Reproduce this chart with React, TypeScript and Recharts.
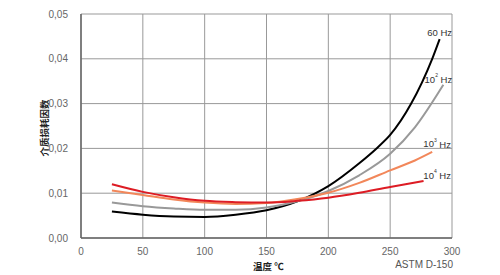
import { LineChart, Line, XAxis, YAxis, CartesianGrid, ReferenceDot } from "recharts";

const xTicks = [0, 50, 100, 150, 200, 250, 300];
const yTicks = [0, 0.01, 0.02, 0.03, 0.04, 0.05];

const hz60 = [
  { t: 25, v: 0.0059 }, { t: 50, v: 0.0052 }, { t: 75, v: 0.0048 }, { t: 100, v: 0.0047 },
  { t: 125, v: 0.0052 }, { t: 150, v: 0.0062 }, { t: 175, v: 0.0082 }, { t: 200, v: 0.0116 },
  { t: 225, v: 0.0167 }, { t: 239, v: 0.0200 }, { t: 250, v: 0.0230 }, { t: 267, v: 0.0300 },
  { t: 284, v: 0.0400 }, { t: 290, v: 0.0444 },
];
const hz100 = [
  { t: 25, v: 0.0079 }, { t: 50, v: 0.0071 }, { t: 75, v: 0.0066 }, { t: 100, v: 0.0063 },
  { t: 125, v: 0.0063 }, { t: 150, v: 0.0068 }, { t: 175, v: 0.0082 }, { t: 200, v: 0.0105 },
  { t: 225, v: 0.0140 }, { t: 250, v: 0.0188 }, { t: 270, v: 0.0247 }, { t: 293, v: 0.0342 },
];
const hz1000 = [
  { t: 25, v: 0.0106 }, { t: 50, v: 0.0096 }, { t: 75, v: 0.0086 }, { t: 100, v: 0.0079 },
  { t: 125, v: 0.0076 }, { t: 150, v: 0.0078 }, { t: 175, v: 0.0087 }, { t: 200, v: 0.0101 },
  { t: 225, v: 0.0123 }, { t: 250, v: 0.0151 }, { t: 270, v: 0.0173 }, { t: 284, v: 0.0192 },
];
const hz10000 = [
  { t: 25, v: 0.0120 }, { t: 50, v: 0.0103 }, { t: 75, v: 0.0091 }, { t: 100, v: 0.0083 },
  { t: 125, v: 0.0080 }, { t: 150, v: 0.0079 }, { t: 175, v: 0.0083 }, { t: 200, v: 0.0090 },
  { t: 225, v: 0.0101 }, { t: 250, v: 0.0114 }, { t: 277, v: 0.0127 },
];

const seriesLabels = [
  { base: "60", sup: "", t: 290, v: 0.0457 },
  { base: "10", sup: "2", t: 289, v: 0.0352 },
  { base: "10", sup: "3", t: 288, v: 0.0208 },
  { base: "10", sup: "4", t: 288, v: 0.0138 },
];

const font = "'Liberation Sans Narrow', 'Liberation Sans', Arial, sans-serif";
const fmt = (v: number) => v.toFixed(2).replace(".", ",");

function HzLabel({ viewBox, base, sup }: any) {
  const x = viewBox?.cx ?? viewBox?.x ?? 0;
  const y = viewBox?.cy ?? viewBox?.y ?? 0;
  return (
    <text x={x} y={y} textAnchor="middle" fontSize={9.5} fill="#333" fontFamily={font} dominantBaseline="middle">
      {base}
      {sup && <tspan fontSize={5} dy={-4}>{sup}</tspan>}
      <tspan dy={sup ? 4 : 0}>{" Hz"}</tspan>
    </text>
  );
}

export default function App() {
  return (
    <div style={{ position: "fixed", left: 0, top: 0, width: 500, height: 275, background: "#fff" }}>
      <LineChart width={500} height={275} margin={{ top: 14, right: 48, left: 0, bottom: 0 }}>
        <CartesianGrid stroke="#999" strokeWidth={1} />
        <XAxis
          type="number"
          dataKey="t"
          domain={[0, 300]}
          ticks={xTicks}
          height={37}
          axisLine={{ stroke: "#666", strokeWidth: 1.5 }}
          tickLine={false}
          tick={{ fill: "#666", fontSize: 10, fontFamily: font }}
          tickMargin={4}
          allowDuplicatedCategory={false}
        />
        <YAxis
          type="number"
          domain={[0, 0.05]}
          ticks={yTicks}
          width={81}
          tickFormatter={fmt}
          axisLine={{ stroke: "#666", strokeWidth: 1.5 }}
          tickLine={false}
          tick={{ fill: "#666", fontSize: 10, fontFamily: font }}
          tickMargin={7}
        />
        <Line data={hz60} dataKey="v" type="monotone" stroke="#000" strokeWidth={2} dot={false} isAnimationActive={false} />
        <Line data={hz100} dataKey="v" type="monotone" stroke="#999" strokeWidth={2} dot={false} isAnimationActive={false} />
        <Line data={hz1000} dataKey="v" type="monotone" stroke="#f2875a" strokeWidth={2} dot={false} isAnimationActive={false} />
        <Line data={hz10000} dataKey="v" type="monotone" stroke="#dd1c24" strokeWidth={2} dot={false} isAnimationActive={false} />
        {seriesLabels.map((s) => (
          <ReferenceDot
            key={s.base + s.sup}
            x={s.t}
            y={s.v}
            r={0}
            stroke="none"
            fill="none"
            ifOverflow="visible"
            label={(p: any) => <HzLabel {...p} base={s.base} sup={s.sup} />}
          />
        ))}
      </LineChart>
      <div
        style={{
          position: "absolute",
          left: 44,
          top: 128,
          transform: "translate(-50%, -50%) rotate(-90deg)",
          fontFamily: "'Noto Sans CJK SC', sans-serif",
          fontWeight: 700,
          fontSize: 9.5,
          lineHeight: "10px",
          whiteSpace: "nowrap",
          color: "#222",
        }}
      >
        介质损耗因数
      </div>
      <div
        style={{
          position: "absolute",
          left: 253,
          top: 261,
          fontFamily: "'Noto Sans CJK SC', sans-serif",
          fontWeight: 700,
          fontSize: 9.5,
          lineHeight: "10px",
          color: "#222",
          whiteSpace: "nowrap",
        }}
      >
        温度 ℃
      </div>
      <div
        style={{
          position: "absolute",
          right: 47,
          top: 260,
          fontFamily: font,
          fontSize: 10,
          lineHeight: "10px",
          color: "#555",
          whiteSpace: "nowrap",
        }}
      >
        ASTM D-150
      </div>
    </div>
  );
}
